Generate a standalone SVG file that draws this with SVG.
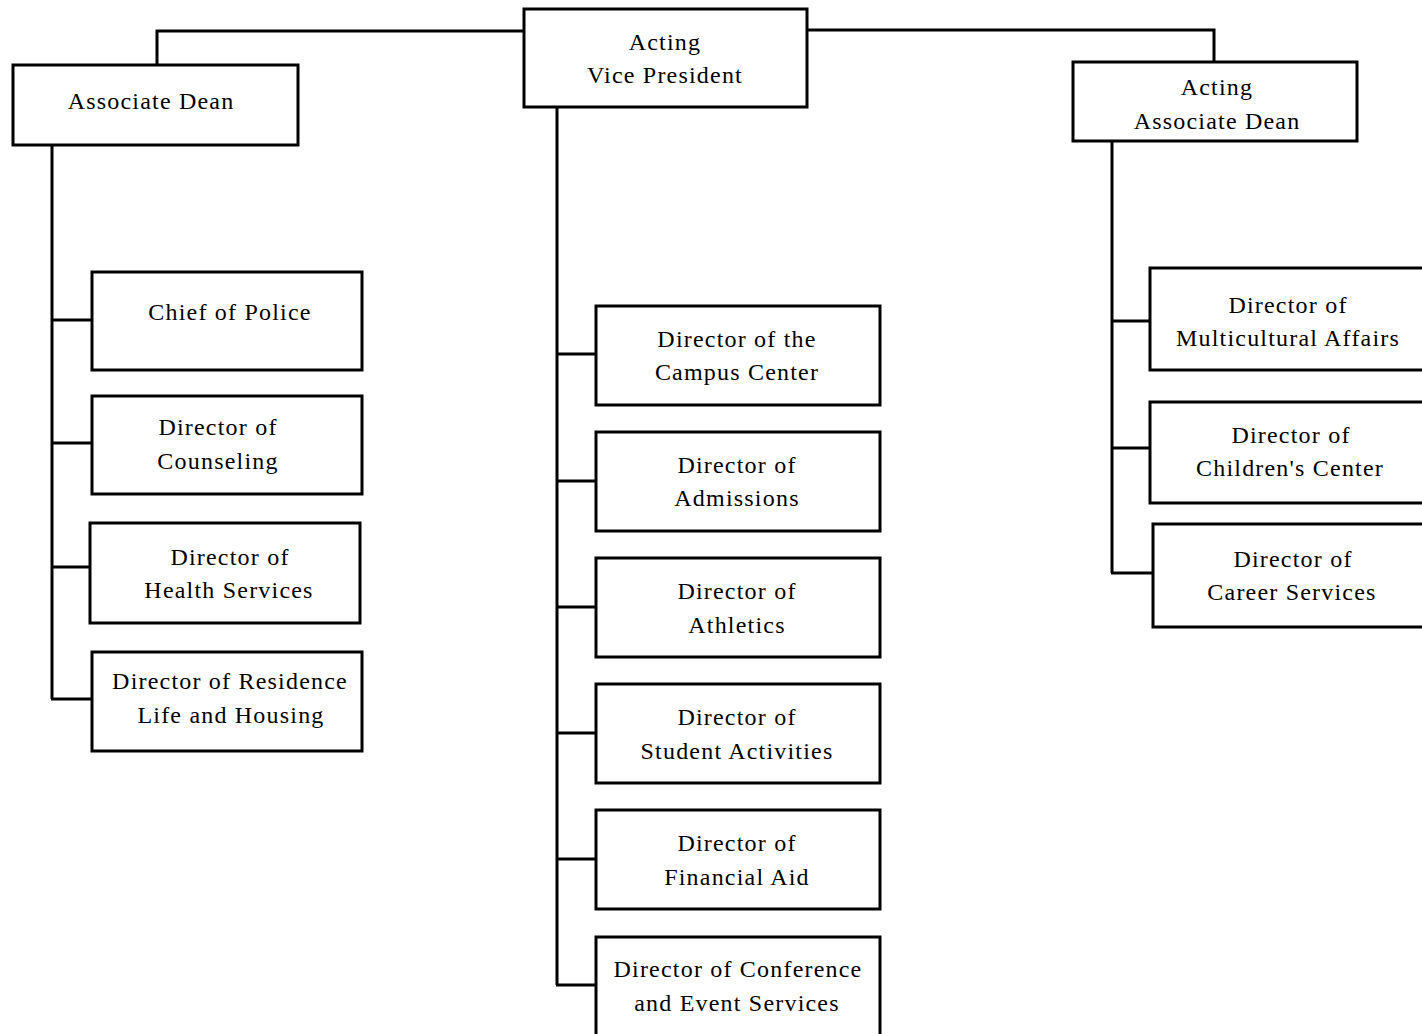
<svg xmlns="http://www.w3.org/2000/svg" width="1422" height="1034" viewBox="0 0 1422 1034" font-family="Liberation Serif, DejaVu Serif, serif">
<style>
.box{fill:#fff;stroke:#000;stroke-width:3}
.c{fill:none;stroke:#000;stroke-width:3}
.t{font-family:"Liberation Serif","DejaVu Serif",serif;font-size:24px;letter-spacing:1.2px;text-anchor:middle;fill:#000}
</style>
<rect width="1422" height="1034" fill="#fff"/>
<g id="connectors">
<polyline class="c" points="157,65 157,31 524,31"/>
<polyline class="c" points="807,30 1214,30 1214,63"/>
<line class="c" x1="52" y1="145" x2="52" y2="699"/>
<line class="c" x1="52" y1="320" x2="92" y2="320"/>
<line class="c" x1="52" y1="443" x2="92" y2="443"/>
<line class="c" x1="52" y1="567" x2="90" y2="567"/>
<line class="c" x1="51" y1="699" x2="92" y2="699"/>
<line class="c" x1="557" y1="107" x2="557" y2="985"/>
<line class="c" x1="557" y1="354" x2="596" y2="354"/>
<line class="c" x1="557" y1="481" x2="596" y2="481"/>
<line class="c" x1="557" y1="607" x2="596" y2="607"/>
<line class="c" x1="557" y1="733" x2="596" y2="733"/>
<line class="c" x1="557" y1="859" x2="596" y2="859"/>
<line class="c" x1="556" y1="985" x2="596" y2="985"/>
<line class="c" x1="1112" y1="141" x2="1112" y2="573"/>
<line class="c" x1="1112" y1="321" x2="1150" y2="321"/>
<line class="c" x1="1112" y1="448" x2="1150" y2="448"/>
<line class="c" x1="1111" y1="573" x2="1153" y2="573"/>
</g>
<g class="t">
<g id="vp"><rect class="box" x="524" y="9" width="283" height="98"/><text x="665" y="50">Acting</text><text x="665" y="83">Vice President</text></g>
<g id="assoc-dean"><rect class="box" x="13" y="65" width="285" height="80"/><text x="151" y="109">Associate Dean</text></g>
<g id="acting-assoc-dean"><rect class="box" x="1073" y="62" width="284" height="79"/><text x="1217" y="95">Acting</text><text x="1217" y="129">Associate Dean</text></g>
<g id="police"><rect class="box" x="92" y="272" width="270" height="98"/><text x="230" y="320">Chief of Police</text></g>
<g id="counseling"><rect class="box" x="92" y="396" width="270" height="98"/><text x="218" y="435">Director of</text><text x="218" y="469">Counseling</text></g>
<g id="health"><rect class="box" x="90" y="523" width="270" height="100"/><text x="230" y="565">Director of</text><text x="229" y="598">Health Services</text></g>
<g id="residence"><rect class="box" x="92" y="652" width="270" height="99"/><text x="230" y="689">Director of Residence</text><text x="231" y="723">Life and Housing</text></g>
<g id="campus"><rect class="box" x="596" y="306" width="284" height="99"/><text x="737" y="347">Director of the</text><text x="737" y="380">Campus Center</text></g>
<g id="admissions"><rect class="box" x="596" y="432" width="284" height="99"/><text x="737" y="473">Director of</text><text x="737" y="506">Admissions</text></g>
<g id="athletics"><rect class="box" x="596" y="558" width="284" height="99"/><text x="737" y="599">Director of</text><text x="737" y="633">Athletics</text></g>
<g id="activities"><rect class="box" x="596" y="684" width="284" height="99"/><text x="737" y="725">Director of</text><text x="737" y="759">Student Activities</text></g>
<g id="finaid"><rect class="box" x="596" y="810" width="284" height="99"/><text x="737" y="851">Director of</text><text x="737" y="885">Financial Aid</text></g>
<g id="conference"><rect class="box" x="596" y="937" width="284" height="110"/><text x="738" y="977">Director of Conference</text><text x="737" y="1011">and Event Services</text></g>
<g id="multicultural"><rect class="box" x="1150" y="268" width="290" height="102"/><text x="1288" y="313">Director of</text><text x="1288" y="346">Multicultural Affairs</text></g>
<g id="childrens"><rect class="box" x="1150" y="402" width="290" height="101"/><text x="1291" y="443">Director of</text><text x="1290" y="476">Children's Center</text></g>
<g id="career"><rect class="box" x="1153" y="524" width="290" height="103"/><text x="1293" y="567">Director of</text><text x="1292" y="600">Career Services</text></g>
</g>
</svg>
